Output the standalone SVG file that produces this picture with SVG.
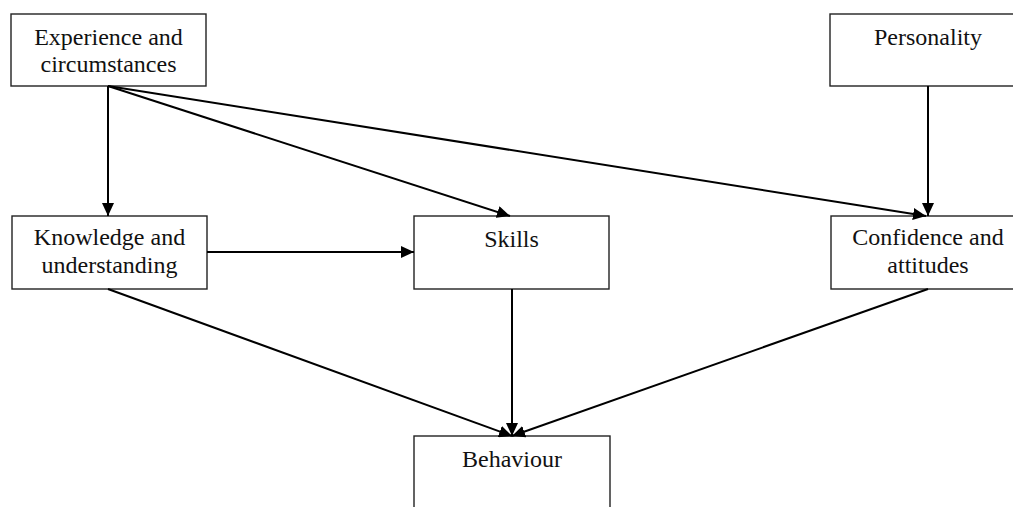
<svg xmlns="http://www.w3.org/2000/svg" width="1013" height="507" viewBox="0 0 1013 507">
<style>
.box{fill:#fff;stroke:#222;stroke-width:1.4}
.lbl{font-family:"Liberation Serif","Times New Roman",serif;font-size:24px;fill:#111;text-anchor:middle}
.con{stroke:#000;stroke-width:2;fill:none;marker-end:url(#ah)}
</style>
<defs>
<marker id="ah" markerWidth="13" markerHeight="12" refX="13" refY="6" orient="auto" markerUnits="userSpaceOnUse">
<path d="M0,0 L13,6 L0,12 Z" fill="#000"/>
</marker>
</defs>
<rect width="1013" height="507" fill="#fff"/>
<g id="experience"><rect class="box" x="11" y="14" width="195" height="72"/><text class="lbl" x="108.5" y="45">Experience and</text><text class="lbl" x="108.5" y="72">circumstances</text></g>
<g id="personality"><rect class="box" x="830" y="14" width="195" height="72"/><text class="lbl" x="928" y="45">Personality</text></g>
<g id="knowledge"><rect class="box" x="12" y="216" width="195" height="73"/><text class="lbl" x="109.5" y="245">Knowledge and</text><text class="lbl" x="109.5" y="273">understanding</text></g>
<g id="skills"><rect class="box" x="414" y="216" width="195" height="73"/><text class="lbl" x="511.5" y="247">Skills</text></g>
<g id="confidence"><rect class="box" x="831" y="216" width="195" height="73"/><text class="lbl" x="928" y="245">Confidence and</text><text class="lbl" x="928" y="273">attitudes</text></g>
<g id="behaviour"><rect class="box" x="414" y="436" width="196" height="80"/><text class="lbl" x="512" y="467">Behaviour</text></g>
<g id="connectors">
<line class="con" x1="108" y1="86" x2="108" y2="216"/>
<line class="con" x1="108" y1="86" x2="510" y2="216"/>
<line class="con" x1="108" y1="86" x2="926" y2="216"/>
<line class="con" x1="928" y1="86" x2="928" y2="216"/>
<line class="con" x1="207" y1="252" x2="414" y2="252"/>
<line class="con" x1="108" y1="289" x2="512" y2="436"/>
<line class="con" x1="512" y1="289" x2="512" y2="436"/>
<line class="con" x1="928" y1="289" x2="512" y2="436"/>
</g>
</svg>
